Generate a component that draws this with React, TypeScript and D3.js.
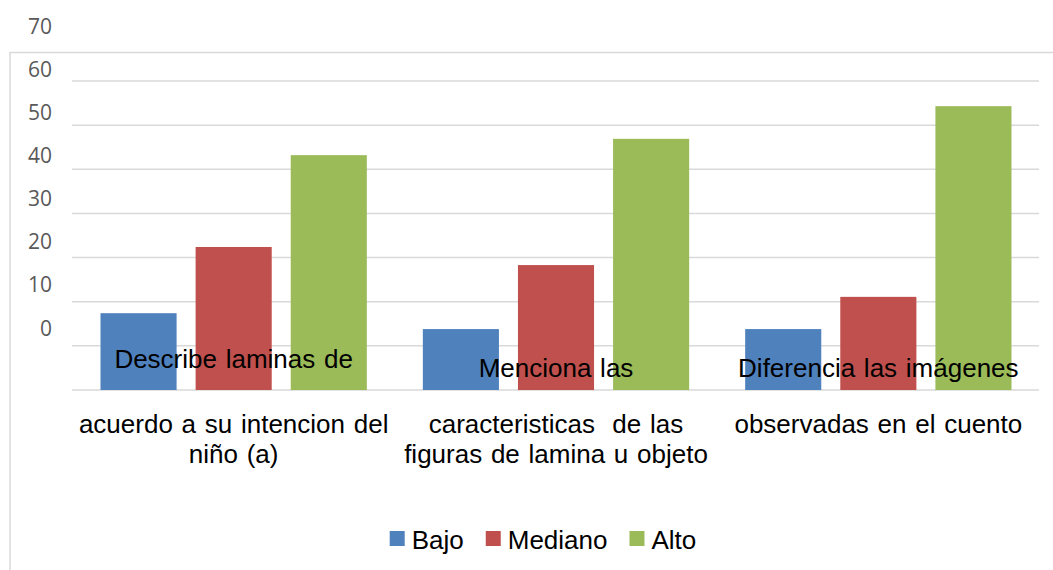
import React, { useEffect, useRef } from "react";
import * as d3 from "d3";

// ---- data ----
const categories = ["G1", "G2", "G3"];
const categoryLines: string[][] = [
  ["Describe laminas de", "acuerdo a su intencion del", "niño (a)"],
  ["Menciona las", "caracteristicas  de las", "figuras de lamina u objeto"],
  ["Diferencia las imágenes", "observadas en el cuento"],
];
const seriesNames = ["Bajo", "Mediano", "Alto"];
const bajo = [17.4, 13.8, 13.8];
const mediano = [32.4, 28.3, 21.1];
const alto = [53.2, 56.9, 64.3];
const yTicks = [0, 10, 20, 30, 40, 50, 60, 70];

// ---- layout / style ----
const W = 1053;
const H = 570;
const COLORS = ["#4f81bd", "#c0504d", "#9bbb59"];
const GRID_LEFT = 72;
const GRID_RIGHT = 1039;
const FIRST_LINE_Y = [368, 377, 377];
const OTHER_LINE_Y = [433, 463];
const TEXT_FONT = "'Liberation Sans', Arial, sans-serif";

export default function App() {
  const ref = useRef<SVGSVGElement | null>(null);

  useEffect(() => {
    const svg = d3.select(ref.current);
    svg.selectAll("*").remove();

    const values = [bajo, mediano, alto];

    const y = d3.scaleLinear().domain([0, 70]).range([390, 81]);
    const yLabel = d3.scaleLinear().domain([0, 70]).range([328, 26]);
    const x0 = d3.scaleBand<string>().domain(categories).range([72.5, 1039.5]).padding(0);
    const bw = x0.bandwidth();
    const x1 = d3.scaleBand<string>().domain(seriesNames).range([28, bw - 28]).paddingInner(0.2);

    // frame
    svg
      .append("path")
      .attr("d", `M10,${H + 5}V52.5H${W + 5}`)
      .attr("fill", "none")
      .attr("stroke", "#d9d9d9")
      .attr("stroke-width", 1.5);

    // gridlines
    svg
      .append("g")
      .selectAll("line")
      .data(yTicks)
      .join("line")
      .attr("x1", GRID_LEFT)
      .attr("x2", GRID_RIGHT)
      .attr("y1", (d) => y(d))
      .attr("y2", (d) => y(d))
      .attr("stroke", "#d9d9d9")
      .attr("stroke-width", 1.5);

    // y labels (offset, as in the reference)
    svg
      .append("g")
      .selectAll("text")
      .data(yTicks)
      .join("text")
      .attr("x", 52)
      .attr("y", (d) => yLabel(d))
      .attr("dy", "0.36em")
      .attr("text-anchor", "end")
      .attr("font-family", "'Open Sans', sans-serif")
      .attr("font-size", 21)
      .attr("fill", "#595959")
      .text((d) => String(d));

    // bars
    const g = svg.append("g");
    categories.forEach((c, ci) => {
      seriesNames.forEach((s, si) => {
        const v = values[si][ci];
        g.append("rect")
          .attr("x", (x0(c) as number) + (x1(s) as number))
          .attr("y", y(v))
          .attr("width", x1.bandwidth())
          .attr("height", y(0) - y(v))
          .attr("fill", COLORS[si]);
      });
    });

    // category labels
    categories.forEach((c, ci) => {
      const cx = (x0(c) as number) + bw / 2;
      categoryLines[ci].forEach((line, li) => {
        const ty = li === 0 ? FIRST_LINE_Y[ci] : OTHER_LINE_Y[li - 1];
        svg
          .append("text")
          .attr("x", cx)
          .attr("y", ty)
          .attr("text-anchor", "middle")
          .attr("font-family", TEXT_FONT)
          .attr("font-size", 26)
          .attr("word-spacing", 1.5)
          .attr("fill", "#000")
          .style("white-space", "pre")
          .text(line);
      });
    });

    // legend
    const lg = svg.append("g");
    const items: { sq: number; tx: number; w: number }[] = [];
    let cursor = 0;
    seriesNames.forEach((s) => {
      const t = lg
        .append("text")
        .attr("y", 549)
        .attr("font-family", TEXT_FONT)
        .attr("font-size", 26)
        .attr("fill", "#000")
        .text(s);
      const w = (t.node() as SVGTextElement).getComputedTextLength();
      items.push({ sq: cursor, tx: cursor + 22, w });
      cursor += 22 + w + 22;
    });
    const total = cursor - 22;
    const start = 543 - total / 2;
    lg.selectAll("text").attr("x", (_d, i) => start + items[i].tx);
    seriesNames.forEach((_s, si) => {
      lg.append("rect")
        .attr("x", start + items[si].sq)
        .attr("y", 531)
        .attr("width", 15)
        .attr("height", 15)
        .attr("fill", COLORS[si]);
    });
  }, []);

  return (
    <svg
      ref={ref}
      width={W}
      height={H}
      style={{ position: "absolute", left: 0, top: 0, background: "#fff" }}
    />
  );
}
